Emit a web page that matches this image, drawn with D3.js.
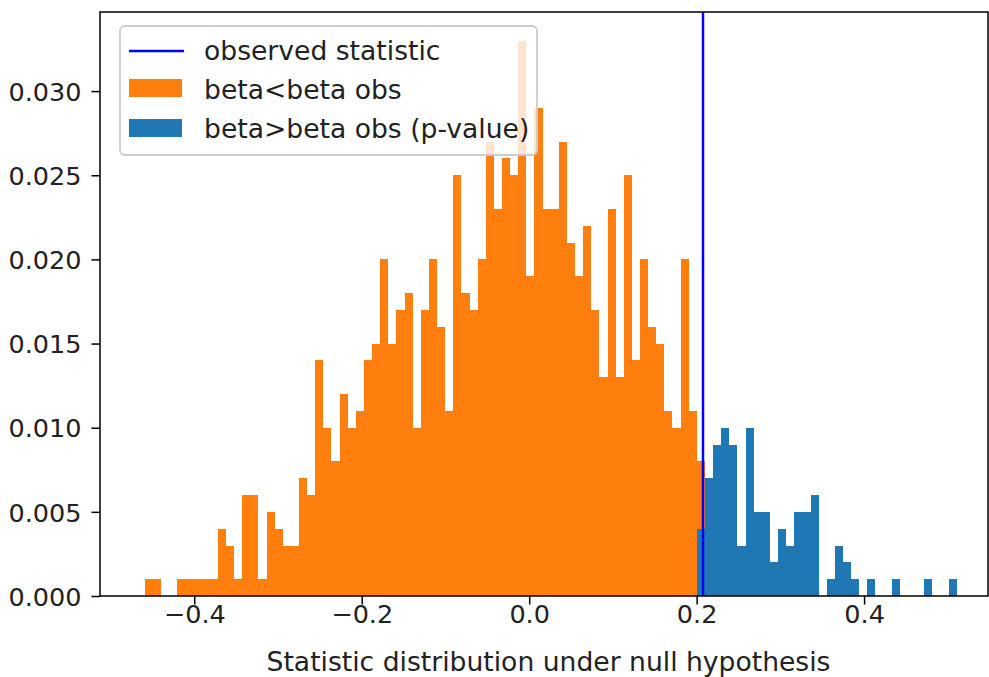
<!DOCTYPE html>
<html><head><meta charset="utf-8">
<script src="https://cdn.jsdelivr.net/npm/d3@7"></script>
<style>
body{margin:0;background:#fff}
svg{display:block}
text{font-family:"DejaVu Sans",sans-serif;fill:#222}
</style>
</head><body>
<svg id="c" width="989" height="677"></svg>
<script>
// ---- data ----
const sampleSize = 1000;                 // histogram weights = 1/N
const histRange = [-0.4592, 0.5106];     // first / last bin edge
const binCount = 100;
const observedStatistic = 0.2076;
// counts per bin, beta < beta obs (bins 0..68)
const countsBelow = [1,1,0,0,1,1,1,1,1,4,3,1,6,6,1,5,4,3,3,7,6,14,10,8,12,10,11,14,15,20,15,17,18,10,17,20,16,11,25,18,17,20,27,23,26,25,33,19,29,23,23,27,21,19,22,17,13,23,13,25,14,20,16,15,11,10,20,11,8];
// counts per bin, beta > beta obs (bins 68..99)
const aboveStartBin = 68;
const countsAbove = [4,7,9,10,9,3,10,5,5,2,4,3,5,5,6,0,1,3,2,1,0,1,0,0,1,0,0,0,1,0,0,1];
const xTicks = [-0.4, -0.2, 0.0, 0.2, 0.4];
const yTicks = [0.000, 0.005, 0.010, 0.015, 0.020, 0.025, 0.030];
const legendLabels = ["observed statistic", "beta<beta obs", "beta>beta obs (p-value)"];
const xLabel = "Statistic distribution under null hypothesis";

// ---- layout ----
const L = 100, R = 988, T = 12, B = 596;
const FS_TICK = 25.5, FS_TEXT = 26.6;
const colOrange = "#ff7f0e", colBlue = "#1f77b4", colLine = "#0000ff";

const svg = d3.select("#c");
const x = d3.scaleLinear().domain([-0.5126, 0.5480]).range([L, R]);
const y = d3.scaleLinear().domain([0, 0.0347]).range([B, T]);

const edges = d3.range(binCount + 1).map(i => histRange[0] + i * (histRange[1] - histRange[0]) / binCount);
const below = countsBelow.map((c, i) => ({x0: edges[i], x1: edges[i + 1], v: c / sampleSize}));
const above = countsAbove.map((c, j) => ({x0: edges[aboveStartBin + j], x1: edges[aboveStartBin + j + 1], v: c / sampleSize}));

function drawBars(data, color) {
  svg.append("g").attr("shape-rendering", "crispEdges")
    .selectAll("rect").data(data.filter(d => d.v > 0)).join("rect")
    .attr("x", d => x(d.x0))
    .attr("width", d => x(d.x1) - x(d.x0))
    .attr("y", d => y(d.v))
    .attr("height", d => y(0) - y(d.v))
    .attr("fill", color);
}
drawBars(below, colOrange);
drawBars(above, colBlue);

// observed statistic line
svg.append("line")
  .attr("x1", x(observedStatistic)).attr("x2", x(observedStatistic))
  .attr("y1", T).attr("y2", B)
  .attr("stroke", colLine).attr("stroke-width", 2.5);

// axes
const fmtX = d3.format(".1f"), fmtY = d3.format(".3f");
const gx = svg.append("g").attr("transform", `translate(0,${B})`)
  .call(d3.axisBottom(x).tickValues(xTicks).tickFormat(fmtX).tickSizeInner(8.5).tickSizeOuter(0).tickPadding(0));
const gy = svg.append("g").attr("transform", `translate(${L},0)`)
  .call(d3.axisLeft(y).tickValues(yTicks).tickFormat(fmtY).tickSizeInner(8.5).tickSizeOuter(0).tickPadding(10));
[gx, gy].forEach(g => {
  g.select(".domain").remove();
  g.selectAll(".tick line").attr("stroke", "#000").attr("stroke-width", 1.5);
  g.selectAll(".tick text").attr("font-size", FS_TICK).attr("font-family", "DejaVu Sans").attr("fill", "#222");
});
gy.selectAll(".tick text").attr("dy", "0.36em");

// spines
svg.append("rect").attr("x", L).attr("y", T).attr("width", R - L).attr("height", B - T)
  .attr("fill", "none").attr("stroke", "#000").attr("stroke-width", 1.5);

// x label
svg.append("text").attr("x", 548.5).attr("y", 671).attr("text-anchor", "middle")
  .attr("font-size", FS_TEXT).text(xLabel);

// legend
const lg = svg.append("g");
lg.append("rect").attr("x", 120).attr("y", 26).attr("width", 417).attr("height", 129)
  .attr("rx", 5).attr("fill", "#fff").attr("fill-opacity", 0.8)
  .attr("stroke", "#cccccc").attr("stroke-width", 1.8);
const rows = [60, 99, 138];
lg.append("line").attr("x1", 129).attr("x2", 184).attr("y1", 51).attr("y2", 51)
  .attr("stroke", colLine).attr("stroke-width", 2.5);
lg.append("rect").attr("x", 129).attr("y", 79).attr("width", 53).attr("height", 18).attr("fill", colOrange);
lg.append("rect").attr("x", 129).attr("y", 119).attr("width", 53).attr("height", 18).attr("fill", colBlue);
lg.selectAll("text.lbl").data(legendLabels).join("text").attr("class", "lbl")
  .attr("x", 204).attr("y", (d, i) => rows[i]).attr("font-size", FS_TEXT).text(d => d);
</script>
</body></html>
